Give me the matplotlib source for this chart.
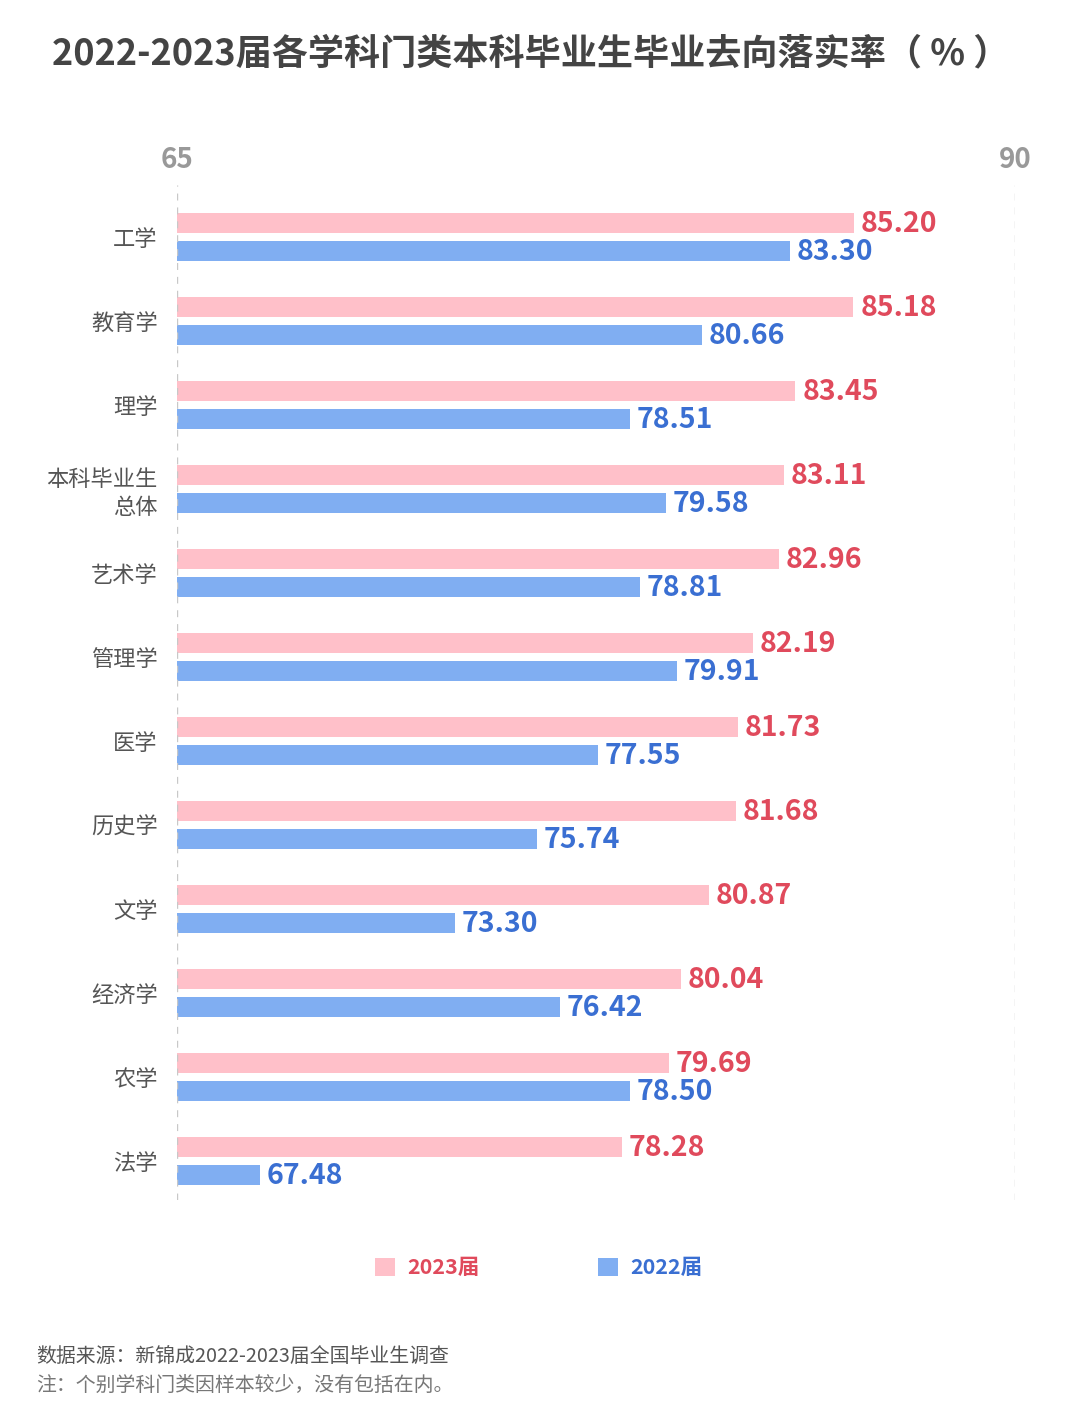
import matplotlib.pyplot as plt
import numpy as np

plt.rcParams['font.family'] = ['Noto Sans CJK SC', 'DejaVu Sans']

# data
categories = ['工学', '教育学', '理学', '本科毕业生\n总体', '艺术学', '管理学', '医学',
              '历史学', '文学', '经济学', '农学', '法学']
rate_2023 = [85.20, 85.18, 83.45, 83.11, 82.96, 82.19, 81.73, 81.68, 80.87, 80.04, 79.69, 78.28]
rate_2022 = [83.30, 80.66, 78.51, 79.58, 78.81, 79.91, 77.55, 75.74, 73.30, 76.42, 78.50, 67.48]
series_labels = ['2023届', '2022届']

pink, pink_txt = '#ffc0c9', '#e04a5c'
blue, blue_txt = '#80aef2', '#3a6fd2'
W, H = 1080, 1414

fig = plt.figure(figsize=(W / 100, H / 100), dpi=100)
# axes box in pixels: x 177..1015, y 185..1200
ax = fig.add_axes([177 / W, 1 - 1200 / H, (1015 - 177) / W, (1200 - 185) / H])

y = np.arange(len(categories))
base = 65
b1 = ax.barh(y - 0.167, np.array(rate_2023) - base, left=base, height=0.24,
             color=pink, label=series_labels[0])
b2 = ax.barh(y + 0.167, np.array(rate_2022) - base, left=base, height=0.24,
             color=blue, label=series_labels[1])

for yi, v in zip(y, rate_2023):
    ax.text(v + 0.2, yi - 0.15, f'{v:.2f}', color=pink_txt, fontsize=20.5,
            fontweight='bold', va='center', ha='left')
for yi, v in zip(y, rate_2022):
    ax.text(v + 0.2, yi + 0.18, f'{v:.2f}', color=blue_txt, fontsize=20.5,
            fontweight='bold', va='center', ha='left')

ax.set_xlim(65, 90)
ax.set_ylim((1200 - 237) / 84, (185 - 237) / 84)
for xv in (65, 90):
    ax.axvline(xv, color='#c8c8c8', lw=1, ls=(0, (5, 5)))

ax.set_yticks(y)
ax.set_yticklabels(categories, fontsize=16, color='#555555', linespacing=1.25)
ax.tick_params(axis='y', length=0, pad=14)
ax.xaxis.tick_top()
ax.set_xticks([65, 90])
ax.set_xticklabels(['65', '90'], fontsize=20, color='#999999', fontweight='bold')
ax.tick_params(axis='x', length=0, pad=8)
for s in ax.spines.values():
    s.set_visible(False)

fig.text(531 / W, 1 - 54 / H, '2022-2023届各学科门类本科毕业生毕业去向落实率（ % ）',
         ha='center', va='center', fontsize=26, fontweight='bold', color='#444444')

leg = fig.legend(handles=[b1, b2], loc='center', bbox_to_anchor=(539 / W, 1 - 1268 / H),
                 ncol=2, frameon=False, handlelength=0.9, handleheight=0.9,
                 handletextpad=0.6, columnspacing=5.5, labelcolor=[pink_txt, blue_txt],
                 prop={'weight': 'bold', 'size': 15.5})

fig.text(36 / W, 1 - 1356 / H, '数据来源：新锦成2022-2023届全国毕业生调查',
         fontsize=14.3, color='#555555', va='center')
fig.text(36 / W, 1 - 1385 / H, '注：个别学科门类因样本较少，没有包括在内。',
         fontsize=14.3, color='#777777', va='center')

fig.savefig('out.png', dpi=100, facecolor='white')
